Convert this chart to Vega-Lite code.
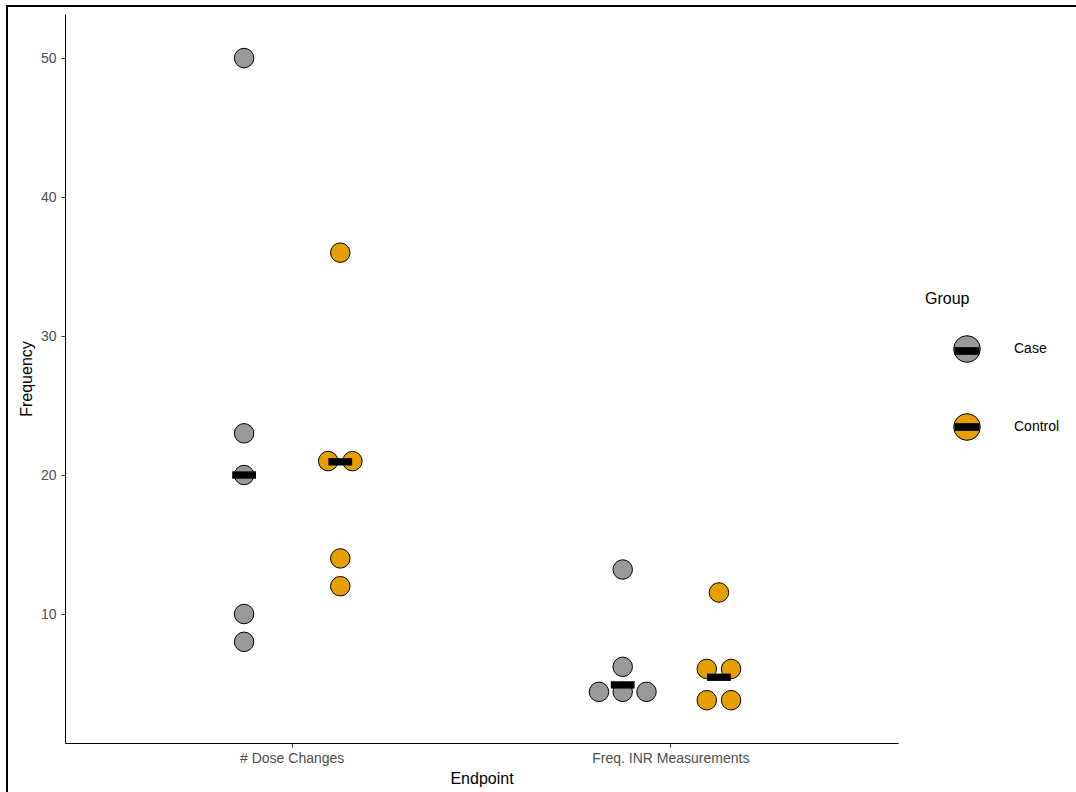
{
  "$schema": "https://vega.github.io/schema/vega-lite/v6.json",
  "width": 1069,
  "height": 786,
  "autosize": {"type": "none"},
  "padding": {"left": 7, "top": 6, "right": 0, "bottom": 0},
  "background": "white",
  "config": {
    "font": "Liberation Sans",
    "view": {"stroke": "black", "strokeWidth": 2, "strokeDash": [1069, 1855, 786]},
    "axis": {
      "grid": false,
      "domainColor": "black",
      "domainWidth": 1,
      "tickColor": "#333333",
      "tickSize": 4,
      "tickWidth": 1,
      "labelColor": "#4D4D4D",
      "labelFontSize": 14,
      "labelFont": "Liberation Sans",
      "titleFont": "Liberation Sans",
      "titleFontSize": 16,
      "titleColor": "black",
      "titleFontWeight": "normal"
    }
  },
  "datasets": {
    "dots": [
      {"Endpoint": "# Dose Changes", "Group": "Case", "Frequency": 50},
      {"Endpoint": "# Dose Changes", "Group": "Case", "Frequency": 23},
      {"Endpoint": "# Dose Changes", "Group": "Case", "Frequency": 20},
      {"Endpoint": "# Dose Changes", "Group": "Case", "Frequency": 10},
      {"Endpoint": "# Dose Changes", "Group": "Case", "Frequency": 8},
      {"Endpoint": "# Dose Changes", "Group": "Control", "Frequency": 36},
      {"Endpoint": "# Dose Changes", "Group": "Control", "Frequency": 21},
      {"Endpoint": "# Dose Changes", "Group": "Control", "Frequency": 21},
      {"Endpoint": "# Dose Changes", "Group": "Control", "Frequency": 14},
      {"Endpoint": "# Dose Changes", "Group": "Control", "Frequency": 12},
      {"Endpoint": "Freq. INR Measurements", "Group": "Case", "Frequency": 13.2},
      {"Endpoint": "Freq. INR Measurements", "Group": "Case", "Frequency": 6.2},
      {"Endpoint": "Freq. INR Measurements", "Group": "Case", "Frequency": 4.4},
      {"Endpoint": "Freq. INR Measurements", "Group": "Case", "Frequency": 4.4},
      {"Endpoint": "Freq. INR Measurements", "Group": "Case", "Frequency": 4.4},
      {"Endpoint": "Freq. INR Measurements", "Group": "Control", "Frequency": 11.55},
      {"Endpoint": "Freq. INR Measurements", "Group": "Control", "Frequency": 6.05},
      {"Endpoint": "Freq. INR Measurements", "Group": "Control", "Frequency": 6.05},
      {"Endpoint": "Freq. INR Measurements", "Group": "Control", "Frequency": 3.8},
      {"Endpoint": "Freq. INR Measurements", "Group": "Control", "Frequency": 3.8}
    ],
    "medians": [
      {"Endpoint": "# Dose Changes", "Group": "Case", "Frequency": 20},
      {"Endpoint": "# Dose Changes", "Group": "Control", "Frequency": 20.95},
      {"Endpoint": "Freq. INR Measurements", "Group": "Case", "Frequency": 4.9},
      {"Endpoint": "Freq. INR Measurements", "Group": "Control", "Frequency": 5.45}
    ]
  },
  "resolve": {"scale": {"xOffset": "independent"}},
  "layer": [
    {
      "data": {"name": "dots"},
      "transform": [
        {"window": [{"op": "count", "as": "n"}, {"op": "row_number", "as": "k"}], "groupby": ["Endpoint", "Group", "Frequency"], "frame": [null, null]}
      ],
      "encoding": {
        "x": {
          "field": "Endpoint", "type": "nominal",
          "scale": {"range": [58, 891], "paddingInner": 0, "paddingOuter": 0.1},
          "axis": {"title": "Endpoint", "labelAngle": 0, "offset": -49, "labelPadding": 4, "titlePadding": 5}
        },
        "y": {
          "field": "Frequency", "type": "quantitative",
          "scale": {"domain": [0.72, 53.17], "range": [737, 8], "nice": false, "zero": false},
          "axis": {"title": "Frequency", "values": [10, 20, 30, 40, 50], "offset": -58, "labelPadding": 5, "titlePadding": 6}
        },
        "fill": {
          "field": "Group", "type": "nominal",
          "scale": {"domain": ["Case", "Control"], "range": ["#999999", "#E69F00"]},
          "legend": {
            "orient": "none", "legendX": 918, "legendY": 285, "padding": 0, "zindex": 0,
            "title": "Group", "titleFontSize": 16, "titleColor": "black", "titleFontWeight": "normal", "titlePadding": 28,
            "labelFontSize": 14, "labelColor": "black", "labelOffset": 33,
            "symbolType": "circle", "symbolSize": 707, "symbolStrokeColor": "black", "symbolStrokeWidth": 1, "symbolOffset": 28,
            "rowPadding": 46
          }
        }
      },
      "resolve": {"scale": {"xOffset": "independent"}},
      "layer": [
        {
          "transform": [{"filter": "datum.n == 1 || (datum.n == 3 && datum.k == 2)"}],
          "mark": {"type": "point", "filled": true, "size": 380, "stroke": "black", "strokeWidth": 1, "opacity": 1},
          "encoding": {"xOffset": {"field": "Group", "type": "nominal", "scale": {"domain": ["_l", "Case", "Control", "_r"], "paddingInner": 0, "paddingOuter": 0.468, "align": 0.5}}}
        },
        {
          "transform": [{"filter": "datum.n == 2 && datum.k == 1"}],
          "mark": {"type": "point", "filled": true, "size": 380, "stroke": "black", "strokeWidth": 1, "opacity": 1},
          "encoding": {"xOffset": {"field": "Group", "type": "nominal", "scale": {"domain": ["_l", "Case", "Control", "_r"], "paddingInner": 0, "paddingOuter": 0.468, "align": 0.3652}}}
        },
        {
          "transform": [{"filter": "datum.n == 2 && datum.k == 2"}],
          "mark": {"type": "point", "filled": true, "size": 380, "stroke": "black", "strokeWidth": 1, "opacity": 1},
          "encoding": {"xOffset": {"field": "Group", "type": "nominal", "scale": {"domain": ["_l", "Case", "Control", "_r"], "paddingInner": 0, "paddingOuter": 0.468, "align": 0.6348}}}
        },
        {
          "transform": [{"filter": "datum.n == 3 && datum.k == 1"}],
          "mark": {"type": "point", "filled": true, "size": 380, "stroke": "black", "strokeWidth": 1, "opacity": 1},
          "encoding": {"xOffset": {"field": "Group", "type": "nominal", "scale": {"domain": ["_l", "Case", "Control", "_r"], "paddingInner": 0, "paddingOuter": 0.468, "align": 0.236}}}
        },
        {
          "transform": [{"filter": "datum.n == 3 && datum.k == 3"}],
          "mark": {"type": "point", "filled": true, "size": 380, "stroke": "black", "strokeWidth": 1, "opacity": 1},
          "encoding": {"xOffset": {"field": "Group", "type": "nominal", "scale": {"domain": ["_l", "Case", "Control", "_r"], "paddingInner": 0, "paddingOuter": 0.468, "align": 0.764}}}
        }
      ]
    },
    {
      "data": {"name": "medians"},
      "mark": {"type": "point", "filled": true, "size": 640, "fill": "black", "stroke": null, "opacity": 1},
      "encoding": {
        "x": {"field": "Endpoint", "type": "nominal"},
        "xOffset": {"field": "Group", "type": "nominal", "scale": {"domain": ["_l", "Case", "Control", "_r"], "paddingInner": 0, "paddingOuter": 0.468, "align": 0.5}},
        "y": {"field": "Frequency", "type": "quantitative"},
        "shape": {
          "field": "Group", "type": "nominal",
          "scale": {"range": ["M-0.94,-0.29H0.94V0.29H-0.94Z", "M-0.94,-0.29H0.94V0.29H-0.94Z"]},
          "legend": {
            "orient": "none", "legendX": 918, "legendY": 285, "padding": 0, "zindex": 1,
            "title": "Group", "titleFontSize": 16, "titleColor": "transparent", "titleFontWeight": "normal", "titlePadding": 30,
            "labelFontSize": 14, "labelColor": "transparent", "labelOffset": 33,
            "symbolSize": 707, "symbolFillColor": "black", "symbolStrokeColor": "transparent", "symbolStrokeWidth": 1, "symbolOffset": 28,
            "rowPadding": 55
          }
        }
      }
    }
  ]
}
